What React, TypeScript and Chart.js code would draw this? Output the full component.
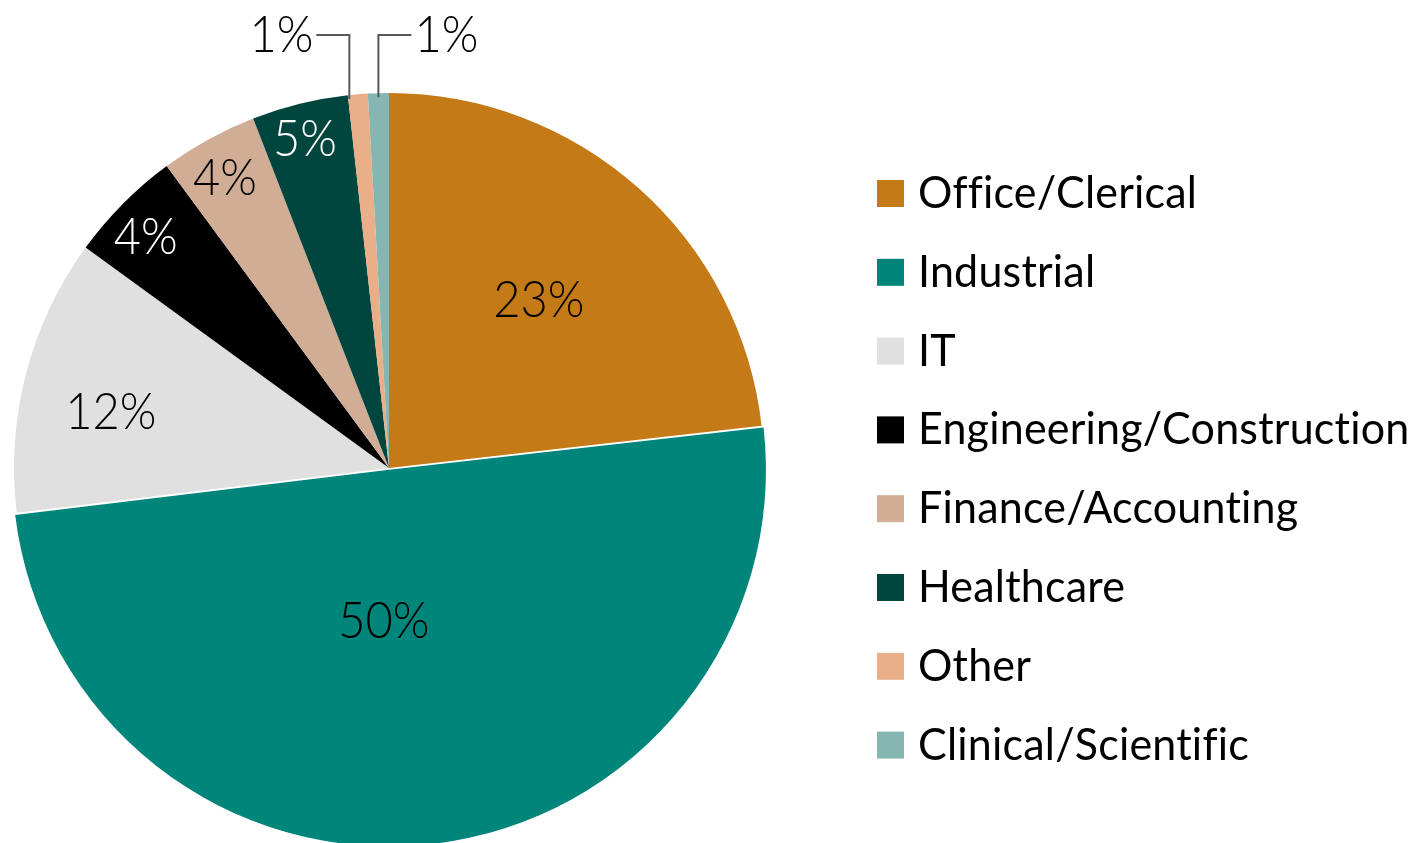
import React, { useEffect, useRef } from 'react';
import { Chart, registerables } from 'chart.js';

Chart.register(...registerables);

// ---- data ----
const categories = [
  'Office/Clerical',
  'Industrial',
  'IT',
  'Engineering/Construction',
  'Finance/Accounting',
  'Healthcare',
  'Other',
  'Clinical/Scientific',
];
const shares = [23.2, 49.9, 11.9, 4.9, 4.2, 4.15, 0.85, 0.9];
const shareLabels = ['23%', '50%', '12%', '4%', '4%', '5%', '1%', '1%'];

// ---- styling ----
const sliceColors = ['#C47A16', '#00857B', '#E0E0E0', '#000000', '#D1AD95', '#00463F', '#E8AF88', '#86B6B1'];
const labelColors = ['#000000', '#000000', '#000000', '#FFFFFF', '#000000', '#FFFFFF', '#000000', '#000000'];
const sliceOffsets = [0, 7, 0, 0, 0, 0, 0, 0];
// [radius fraction, angle nudge in degrees, outside side (0 = inside, -1 left, 1 right)]
const labelPlacement: [number, number, number][] = [
  [0.6, 0, 0],
  [0.39, 9, 0],
  [0.757, -3.2, 0],
  [0.893, -1.4, 0],
  [0.888, -0.7, 0],
  [0.903, -0.6, 0],
  [1.0, -1.3, -1],
  [1.0, 0, 1],
];

const FONT = 'Lato, "Open Sans", sans-serif';
const LABEL_WEIGHT = '300';
const LABEL_SIZE = 47;
const LABEL_STRETCH = 1.09;
const LEGEND_SIZE = 43;
const LEGEND_STRETCH = 1.05;

function drawStretched(ctx: CanvasRenderingContext2D, text: string, x: number, y: number, sy: number) {
  ctx.save();
  ctx.translate(x, y);
  ctx.scale(1, sy);
  ctx.fillText(text, 0, 0);
  ctx.restore();
}

const pieLabelsPlugin = {
  id: 'pieLabels',
  afterDatasetsDraw(chart: any) {
    const ctx: CanvasRenderingContext2D = chart.ctx;
    const meta = chart.getDatasetMeta(0);
    ctx.save();
    ctx.font = `${LABEL_WEIGHT} ${LABEL_SIZE}px ${FONT}`;
    ctx.textBaseline = 'middle';
    meta.data.forEach((arc: any, i: number) => {
      const { x, y, startAngle, endAngle, outerRadius } = arc.getProps(
        ['x', 'y', 'startAngle', 'endAngle', 'outerRadius'],
        true
      );
      const mid = (startAngle + endAngle) / 2;
      const off = sliceOffsets[i];
      const cx = x + Math.cos(mid) * off;
      const cy = y + Math.sin(mid) * off;
      const [frac, nudge, side] = labelPlacement[i];
      const a = mid + (nudge * Math.PI) / 180;
      ctx.fillStyle = labelColors[i];
      if (side === 0) {
        const px = cx + Math.cos(a) * outerRadius * frac;
        const py = cy + Math.sin(a) * outerRadius * frac;
        ctx.textAlign = 'center';
        drawStretched(ctx, shareLabels[i], px, py, LABEL_STRETCH);
      } else {
        const ex = cx + Math.cos(a) * outerRadius;
        const ey = cy + Math.sin(a) * outerRadius;
        const lineY = 35;
        const hx = ex + side * 33;
        ctx.strokeStyle = '#595959';
        ctx.lineWidth = 2;
        ctx.beginPath();
        ctx.moveTo(ex, ey + 4);
        ctx.lineTo(ex, lineY);
        ctx.lineTo(hx, lineY);
        ctx.stroke();
        ctx.textAlign = side < 0 ? 'right' : 'left';
        drawStretched(ctx, shareLabels[i], hx + side * 3, lineY, LABEL_STRETCH);
      }
    });
    ctx.restore();
  },
};

const sideLegendPlugin = {
  id: 'sideLegend',
  afterDraw(chart: any) {
    const ctx: CanvasRenderingContext2D = chart.ctx;
    const labels: string[] = chart.data.labels;
    const colors: string[] = chart.data.datasets[0].backgroundColor;
    const boxX = 877;
    const boxSize = 27;
    const firstY = 193.5;
    const step = 78.8;
    ctx.save();
    ctx.font = `${LEGEND_SIZE}px ${FONT}`;
    (ctx as any).letterSpacing = '0.2px';
    ctx.textAlign = 'left';
    ctx.textBaseline = 'middle';
    labels.forEach((lab, i) => {
      const cy = firstY + i * step;
      ctx.fillStyle = colors[i];
      ctx.fillRect(boxX, cy - boxSize / 2, boxSize, boxSize);
      ctx.fillStyle = '#000000';
      drawStretched(ctx, lab, 918, cy, LEGEND_STRETCH);
    });
    ctx.restore();
  },
};

export default function App() {
  const ref = useRef<HTMLCanvasElement | null>(null);
  useEffect(() => {
    document.body.style.margin = '0';
    const canvas = ref.current;
    if (!canvas) return;
    const chart = new Chart(canvas, {
      type: 'pie',
      data: {
        labels: categories,
        datasets: [
          {
            data: shares,
            backgroundColor: sliceColors,
            borderWidth: 0,
            offset: sliceOffsets,
            radius: 375,
          } as any,
        ],
      },
      options: {
        responsive: false,
        animation: false,
        devicePixelRatio: 1,
        layout: { padding: { left: 14, right: 1420 - 764, top: 93, bottom: 0 } },
        plugins: {
          legend: { display: false },
          tooltip: { enabled: false },
        },
      },
      plugins: [pieLabelsPlugin, sideLegendPlugin],
    });
    return () => chart.destroy();
  }, []);
  return (
    <div style={{ width: 1420, height: 843, background: '#fff' }}>
      <canvas ref={ref} width={1420} height={843} style={{ display: 'block' }} />
    </div>
  );
}
